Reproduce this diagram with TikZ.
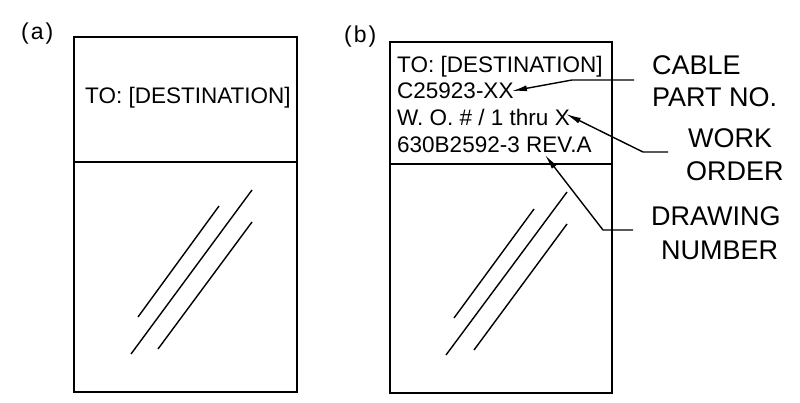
\documentclass[tikz,border=0pt]{standalone}
\usepackage{fontspec}
\setmainfont{Liberation Sans}
\usetikzlibrary{arrows.meta}
\begin{document}
\begin{tikzpicture}[x=1pt,y=-1pt,
  box/.style={draw=black,line width=1.7pt},
  stroke/.style={draw=black,line width=1.4pt},
  inner/.style={anchor=base west,inner sep=0pt,font=\fontsize{22.5}{26}\selectfont},
  lbl/.style={anchor=base west,inner sep=0pt,font=\fontsize{27}{32}\selectfont},
  tag/.style={anchor=base west,inner sep=0pt,font=\fontsize{23}{27}\selectfont},
  leader/.style={draw=black,line width=1.4pt,-{Latex[length=15pt,width=6pt]}}]
\useasboundingbox (0,0) rectangle (800,402);
% panel (a)
\node[tag] (ta) at (21,39) {(\hspace{2pt}a\hspace{2pt})};
\draw[box] (74,37) rectangle (297,392);
\draw[box] (74,162) -- (297,162);
\node[inner] (desta) at (85,103) {TO: [DESTINATION]};
\draw[stroke] (138,317) -- (219,206);
\draw[stroke] (131,354) -- (252,190);
\draw[stroke] (158,349) -- (252,222);
% panel (b)
\node[tag] (tb) at (344,42) {(\hspace{2pt}b\hspace{2pt})};
\draw[box] (390,42) rectangle (612,393);
\draw[box] (390,164) -- (612,164);
\node[inner] (destb) at (397,72) {TO: [DESTINATION]};
\node[inner] (part) at (397,98) {C25923-XX};
\node[inner] (wo) at (397,125) {W. O. \# / 1 thru X};
\node[inner] (dwg) at (397,152) {630B2592-3 REV.A};
\draw[stroke] (454,318) -- (534,209);
\draw[stroke] (446,355) -- (567,192);
\draw[stroke] (474,350) -- (567,224);
% labels
\node[lbl] (cable) at (652,74) {CABLE};
\node[lbl] (partno) at (652,106) {PART NO.};
\node[lbl] (work) at (688,147) {WORK};
\node[lbl] (order) at (686,180) {ORDER};
\node[lbl] (drawing) at (651,225) {DRAWING};
\node[lbl] (number) at (661,259) {NUMBER};
% leader coordinates
\coordinate (c1) at (634,80);
\coordinate (c2) at (572,80);
\coordinate (ct) at (512,91);
\coordinate (w1) at (668,152);
\coordinate (w2) at (643,152);
\coordinate (wt) at (566,114);
\coordinate (d1) at (633,230);
\coordinate (d2) at (603,230);
\coordinate (dt) at (545,155);
\draw[leader] (c1) -- (c2) -- (ct);
\draw[leader] (w1) -- (w2) -- (wt);
\draw[leader] (d1) -- (d2) -- (dt);
\end{tikzpicture}
\end{document}
